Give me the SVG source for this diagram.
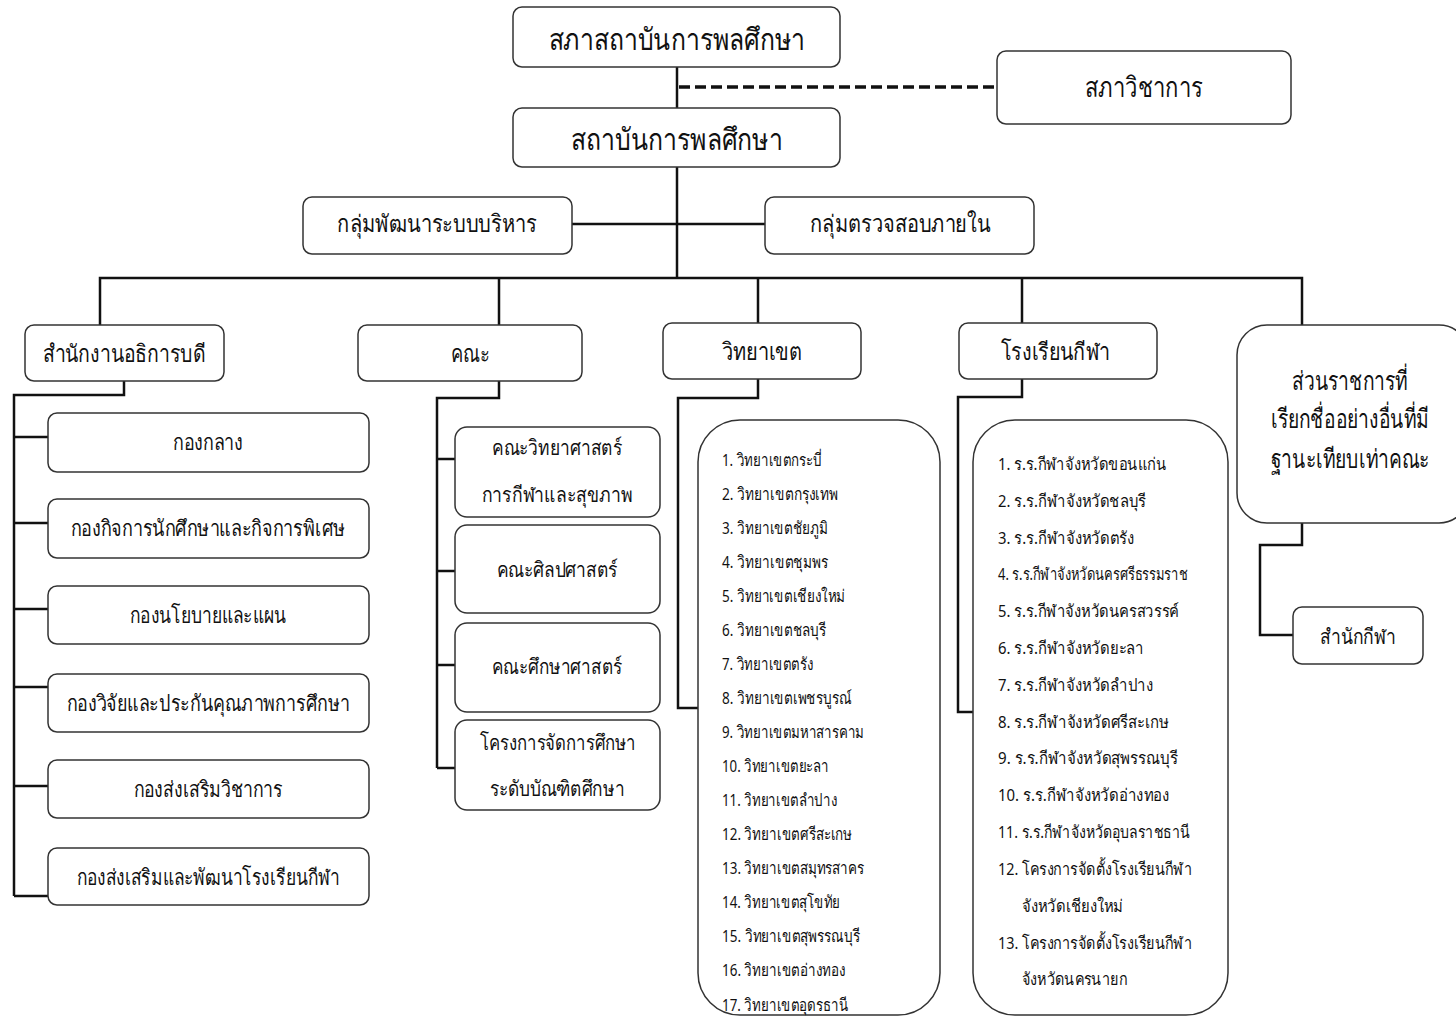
<svg xmlns="http://www.w3.org/2000/svg" width="1456" height="1017" viewBox="0 0 1456 1017">
<style>
.box{fill:#fff;stroke:#333;stroke-width:1.5}
.ln{stroke:#111;stroke-width:2.5;fill:none}
.dash{stroke:#111;stroke-width:3.5;fill:none;stroke-dasharray:11 5}
text{font-family:"Noto Sans","DejaVu Sans","Liberation Sans",sans-serif;fill:#111}
.c{text-anchor:middle;dominant-baseline:central}
.l{dominant-baseline:central}
.s30{font-size:30px}.s28{font-size:28px}.s26{font-size:26px}.s24{font-size:24px}.s22{font-size:22px}.s21{font-size:21px}.s17{font-size:17px}
</style>
<rect width="1456" height="1017" fill="#fff"/>
<g id="connectors">
<path class="ln" d="M677 67V108"/>
<path class="dash" d="M679 87H997"/>
<path class="ln" d="M677 167V278"/>
<path class="ln" d="M572 224H765"/>
<path class="ln" d="M100 325V278H1302V325"/>
<path class="ln" d="M499 278V325M758 278V323M1022 278V323"/>
<path class="ln" d="M124 381V395H14V896M14 437H48M14 523H48M14 609H48M14 687H48M14 786H48M14 896H48"/>
<path class="ln" d="M499 381V398H437V768M437 459H455M437 571H455M437 665H455M437 768H455"/>
<path class="ln" d="M758 379V398H678V708H698"/>
<path class="ln" d="M1022 379V397H958V712H973"/>
<path class="ln" d="M1302 523V545H1260V635H1293"/>
</g>
<g id="council"><rect class="box" x="513" y="7" width="327" height="60" rx="9"/><text class="c s30" x="677" y="38" textLength="257" lengthAdjust="spacingAndGlyphs">สภาสถาบันการพลศึกษา</text></g>
<g id="academic-council"><rect class="box" x="997" y="51" width="294" height="73" rx="9"/><text class="c s28" x="1144" y="86" textLength="118" lengthAdjust="spacingAndGlyphs">สภาวิชาการ</text></g>
<g id="institute"><rect class="box" x="513" y="108" width="327" height="59" rx="9"/><text class="c s30" x="677" y="138" textLength="212" lengthAdjust="spacingAndGlyphs">สถาบันการพลศึกษา</text></g>
<g id="admin-dev"><rect class="box" x="303" y="197" width="269" height="57" rx="9"/><text class="c s24" x="437" y="222" textLength="200" lengthAdjust="spacingAndGlyphs">กลุ่มพัฒนาระบบบริหาร</text></g>
<g id="audit"><rect class="box" x="765" y="197" width="269" height="57" rx="9"/><text class="c s24" x="900" y="222" textLength="181" lengthAdjust="spacingAndGlyphs">กลุ่มตรวจสอบภายใน</text></g>
<g id="president-office"><rect class="box" x="25" y="325" width="199" height="56" rx="9"/><text class="c s24" x="124" y="352" textLength="163" lengthAdjust="spacingAndGlyphs">สำนักงานอธิการบดี</text></g>
<g id="faculty"><rect class="box" x="358" y="325" width="224" height="56" rx="9"/><text class="c s24" x="470" y="352" textLength="39" lengthAdjust="spacingAndGlyphs">คณะ</text></g>
<g id="campus"><rect class="box" x="663" y="323" width="198" height="56" rx="9"/><text class="c s24" x="762" y="350" textLength="80" lengthAdjust="spacingAndGlyphs">วิทยาเขต</text></g>
<g id="sports-school"><rect class="box" x="959" y="323" width="198" height="56" rx="9"/><text class="c s24" x="1055" y="350" textLength="109" lengthAdjust="spacingAndGlyphs">โรงเรียนกีฬา</text></g>
<g id="other-units"><rect class="box" x="1237" y="325" width="232" height="198" rx="30"/>
<g transform="translate(1350 0) scale(0.74 1)">
<text class="c s26" x="0" y="380">ส่วนราชการที่</text>
<text class="c s26" x="0" y="418">เรียกชื่ออย่างอื่นที่มี</text>
<text class="c s26" x="0" y="458">ฐานะเทียบเท่าคณะ</text></g></g>
<g id="sports-office"><rect class="box" x="1293" y="607" width="130" height="57" rx="9"/><text class="c s21" x="1358" y="636" textLength="76" lengthAdjust="spacingAndGlyphs">สำนักกีฬา</text></g>
<g id="div1"><rect class="box" x="48" y="413" width="321" height="59" rx="9"/><text class="c s22" x="208" y="441" textLength="70" lengthAdjust="spacingAndGlyphs">กองกลาง</text></g>
<g id="div2"><rect class="box" x="48" y="499" width="321" height="59" rx="9"/><text class="c s22" x="208" y="527" textLength="275" lengthAdjust="spacingAndGlyphs">กองกิจการนักศึกษาและกิจการพิเศษ</text></g>
<g id="div3"><rect class="box" x="48" y="586" width="321" height="58" rx="9"/><text class="c s22" x="208" y="614" textLength="156" lengthAdjust="spacingAndGlyphs">กองนโยบายและแผน</text></g>
<g id="div4"><rect class="box" x="48" y="674" width="321" height="58" rx="9"/><text class="c s22" x="208" y="702" textLength="283" lengthAdjust="spacingAndGlyphs">กองวิจัยและประกันคุณภาพการศึกษา</text></g>
<g id="div5"><rect class="box" x="48" y="760" width="321" height="58" rx="9"/><text class="c s22" x="208" y="788" textLength="149" lengthAdjust="spacingAndGlyphs">กองส่งเสริมวิชาการ</text></g>
<g id="div6"><rect class="box" x="48" y="848" width="321" height="57" rx="9"/><text class="c s22" x="208" y="876" textLength="263" lengthAdjust="spacingAndGlyphs">กองส่งเสริมและพัฒนาโรงเรียนกีฬา</text></g>
<g id="fac1"><rect class="box" x="455" y="427" width="205" height="90" rx="12"/><text class="c s21" x="557" y="447" textLength="130" lengthAdjust="spacingAndGlyphs">คณะวิทยาศาสตร์</text><text class="c s21" x="557" y="494" textLength="151" lengthAdjust="spacingAndGlyphs">การกีฬาและสุขภาพ</text></g>
<g id="fac2"><rect class="box" x="455" y="525" width="205" height="88" rx="12"/><text class="c s21" x="557" y="569" textLength="121" lengthAdjust="spacingAndGlyphs">คณะศิลปศาสตร์</text></g>
<g id="fac3"><rect class="box" x="455" y="623" width="205" height="89" rx="12"/><text class="c s21" x="557" y="666" textLength="130" lengthAdjust="spacingAndGlyphs">คณะศึกษาศาสตร์</text></g>
<g id="fac4"><rect class="box" x="455" y="720" width="205" height="90" rx="12"/><text class="c s21" x="558" y="742" textLength="156" lengthAdjust="spacingAndGlyphs">โครงการจัดการศึกษา</text><text class="c s21" x="557" y="788" textLength="135" lengthAdjust="spacingAndGlyphs">ระดับบัณฑิตศึกษา</text></g>
<g id="campus-list"><rect class="box" x="698" y="420" width="242" height="595" rx="42"/>
<text class="l s17" x="722" y="459" textLength="100" lengthAdjust="spacingAndGlyphs">1. วิทยาเขตกระบี่</text>
<text class="l s17" x="722" y="493" textLength="116" lengthAdjust="spacingAndGlyphs">2. วิทยาเขตกรุงเทพ</text>
<text class="l s17" x="722" y="527" textLength="106" lengthAdjust="spacingAndGlyphs">3. วิทยาเขตชัยภูมิ</text>
<text class="l s17" x="722" y="561" textLength="106" lengthAdjust="spacingAndGlyphs">4. วิทยาเขตชุมพร</text>
<text class="l s17" x="722" y="595" textLength="123" lengthAdjust="spacingAndGlyphs">5. วิทยาเขตเชียงใหม่</text>
<text class="l s17" x="722" y="629" textLength="104" lengthAdjust="spacingAndGlyphs">6. วิทยาเขตชลบุรี</text>
<text class="l s17" x="722" y="663" textLength="91" lengthAdjust="spacingAndGlyphs">7. วิทยาเขตตรัง</text>
<text class="l s17" x="722" y="697" textLength="130" lengthAdjust="spacingAndGlyphs">8. วิทยาเขตเพชรบูรณ์</text>
<text class="l s17" x="722" y="731" textLength="142" lengthAdjust="spacingAndGlyphs">9. วิทยาเขตมหาสารคาม</text>
<text class="l s17" x="722" y="765" textLength="107" lengthAdjust="spacingAndGlyphs">10. วิทยาเขตยะลา</text>
<text class="l s17" x="722" y="799" textLength="115" lengthAdjust="spacingAndGlyphs">11. วิทยาเขตลำปาง</text>
<text class="l s17" x="722" y="833" textLength="130" lengthAdjust="spacingAndGlyphs">12. วิทยาเขตศรีสะเกษ</text>
<text class="l s17" x="722" y="867" textLength="142" lengthAdjust="spacingAndGlyphs">13. วิทยาเขตสมุทรสาคร</text>
<text class="l s17" x="722" y="901" textLength="118" lengthAdjust="spacingAndGlyphs">14. วิทยาเขตสุโขทัย</text>
<text class="l s17" x="722" y="935" textLength="138" lengthAdjust="spacingAndGlyphs">15. วิทยาเขตสุพรรณบุรี</text>
<text class="l s17" x="722" y="969" textLength="123" lengthAdjust="spacingAndGlyphs">16. วิทยาเขตอ่างทอง</text>
<text class="l s17" x="722" y="1004" textLength="126" lengthAdjust="spacingAndGlyphs">17. วิทยาเขตอุดรธานี</text></g>
<g id="school-list"><rect class="box" x="973" y="420" width="255" height="595" rx="42"/>
<text class="l s17" x="998" y="463" textLength="168" lengthAdjust="spacingAndGlyphs">1. ร.ร.กีฬาจังหวัดขอนแก่น</text>
<text class="l s17" x="998" y="500" textLength="148" lengthAdjust="spacingAndGlyphs">2. ร.ร.กีฬาจังหวัดชลบุรี</text>
<text class="l s17" x="998" y="537" textLength="136" lengthAdjust="spacingAndGlyphs">3. ร.ร.กีฬาจังหวัดตรัง</text>
<text class="l s17" x="998" y="573" textLength="190" lengthAdjust="spacingAndGlyphs">4. ร.ร.กีฬาจังหวัดนครศรีธรรมราช</text>
<text class="l s17" x="998" y="610" textLength="181" lengthAdjust="spacingAndGlyphs">5. ร.ร.กีฬาจังหวัดนครสวรรค์</text>
<text class="l s17" x="998" y="647" textLength="146" lengthAdjust="spacingAndGlyphs">6. ร.ร.กีฬาจังหวัดยะลา</text>
<text class="l s17" x="998" y="684" textLength="155" lengthAdjust="spacingAndGlyphs">7. ร.ร.กีฬาจังหวัดลำปาง</text>
<text class="l s17" x="998" y="721" textLength="171" lengthAdjust="spacingAndGlyphs">8. ร.ร.กีฬาจังหวัดศรีสะเกษ</text>
<text class="l s17" x="998" y="757" textLength="180" lengthAdjust="spacingAndGlyphs">9. ร.ร.กีฬาจังหวัดสุพรรณบุรี</text>
<text class="l s17" x="998" y="794" textLength="171" lengthAdjust="spacingAndGlyphs">10. ร.ร.กีฬาจังหวัดอ่างทอง</text>
<text class="l s17" x="998" y="831" textLength="192" lengthAdjust="spacingAndGlyphs">11. ร.ร.กีฬาจังหวัดอุบลราชธานี</text>
<text class="l s17" x="998" y="868" textLength="194" lengthAdjust="spacingAndGlyphs">12. โครงการจัดตั้งโรงเรียนกีฬา</text>
<text class="l s17" x="1022" y="905" textLength="101" lengthAdjust="spacingAndGlyphs">จังหวัดเชียงใหม่</text>
<text class="l s17" x="998" y="942" textLength="194" lengthAdjust="spacingAndGlyphs">13. โครงการจัดตั้งโรงเรียนกีฬา</text>
<text class="l s17" x="1022" y="978" textLength="105" lengthAdjust="spacingAndGlyphs">จังหวัดนครนายก</text></g>
</svg>
